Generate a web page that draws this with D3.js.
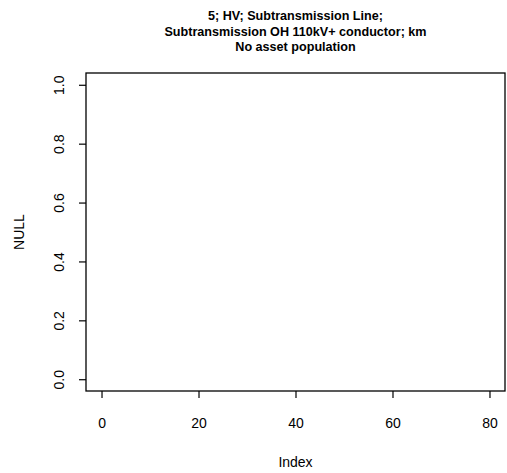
<!DOCTYPE html>
<html><head><meta charset="utf-8">
<script src="https://cdn.jsdelivr.net/npm/d3@7"></script>
<style>body{margin:0;background:#fff}svg{display:block}text{font-family:"Liberation Sans",Arial,sans-serif;fill:#000}</style>
</head><body><div id="chart"></div>
<script>
const titleLines = ["5; HV; Subtransmission Line;", "Subtransmission OH 110kV+ conductor; km", "No asset population"];
const xTicks = [0, 20, 40, 60, 80];
const yTicks = [0.0, 0.2, 0.4, 0.6, 0.8, 1.0];
const xLabel = "Index";
const yLabel = "NULL";
const xDataRange = [0, 80];
const yDataRange = [0, 1];

(function(){
const W = 507, H = 473;
const pL = 86, pR = 505, pT = 73, pB = 391;
const svg = d3.select("#chart").append("svg").attr("width", W).attr("height", H);
const fs = 14;

const xExt = (xDataRange[1]-xDataRange[0])*0.04;
const yExt = (yDataRange[1]-yDataRange[0])*0.04;
const x = d3.scaleLinear().domain([xDataRange[0]-xExt, xDataRange[1]+xExt]).range([pL, pR]);
const y = d3.scaleLinear().domain([yDataRange[0]-yExt, yDataRange[1]+yExt]).range([pB, pT]);

svg.append("rect").attr("x", pL).attr("y", pT).attr("width", pR-pL).attr("height", pB-pT)
  .attr("fill", "none").attr("stroke", "#000").attr("stroke-width", 1.3);

const xAxis = svg.append("g").attr("transform", `translate(0,${pB})`)
  .call(d3.axisBottom(x).tickValues(xTicks).tickSize(7).tickFormat(d3.format("d")));
xAxis.select(".domain").remove();
xAxis.selectAll(".tick line").attr("stroke-width", 1.2);
xAxis.selectAll("text").attr("font-size", fs).attr("font-family", "Liberation Sans, Arial, sans-serif").attr("fill", "#000")
  .attr("y", 37).attr("dy", null);

const yAxis = svg.append("g").attr("transform", `translate(${pL},0)`)
  .call(d3.axisLeft(y).tickValues(yTicks).tickSize(7).tickFormat(d3.format(".1f")));
yAxis.select(".domain").remove();
yAxis.selectAll(".tick line").attr("stroke-width", 1.2);
yAxis.selectAll("text").attr("font-size", fs).attr("font-family", "Liberation Sans, Arial, sans-serif").attr("fill", "#000")
  .attr("x", null).attr("text-anchor", "middle")
  .attr("transform", "translate(-22,0) rotate(-90)").attr("y", 0).attr("dy", null);

const cx = (pL+pR)/2;
svg.append("g").selectAll("text").data(titleLines).join("text")
  .attr("x", cx).attr("y", (d,i)=>20 + i*15.5).attr("text-anchor", "middle")
  .attr("font-size", 12.6).attr("font-weight", "bold").text(d=>d);

svg.append("text").attr("x", cx).attr("y", 467).attr("text-anchor", "middle").attr("font-size", fs).text(xLabel);
svg.append("text").attr("transform", `translate(24,${(pT+pB)/2}) rotate(-90)`).attr("text-anchor", "middle")
  .attr("font-size", fs).text(yLabel);
})();
</script></body></html>
